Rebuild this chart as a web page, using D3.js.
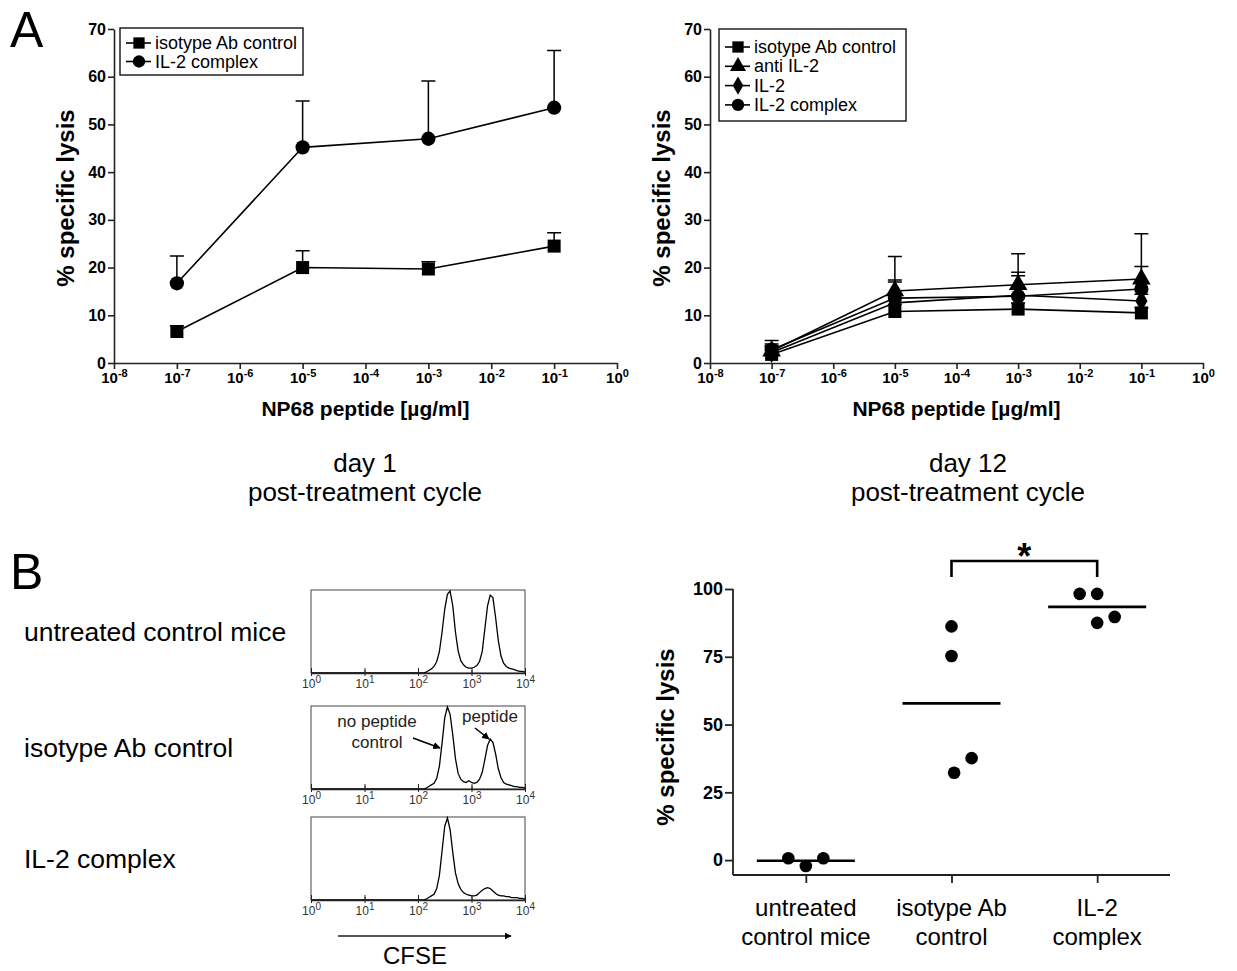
<!DOCTYPE html>
<html>
<head>
<meta charset="utf-8">
<script src="https://cdn.jsdelivr.net/npm/d3@7"></script>
<style>
  body { margin: 0; background: #fff; }
  svg { display: block; font-family: "Liberation Sans", Arial, Helvetica, sans-serif; }
</style>
</head>
<body>
<svg id="fig" width="1237" height="971"></svg>
<script>
// ---------- data ----------
const doses = [1e-7, 1e-5, 1e-3, 1e-1];
const doseTicks = [1e-8, 1e-7, 1e-6, 1e-5, 1e-4, 1e-3, 1e-2, 1e-1, 1];
const lysisTicks = [0, 10, 20, 30, 40, 50, 60, 70];

// day 1 (mean, upper end of error bar)
const day1Isotype = [6.6, 20.0, 19.7, 24.5];
const day1IsotypeErr = [7.8, 23.5, 21.2, 27.3];
const day1Complex = [16.7, 45.2, 47.0, 53.5];
const day1ComplexErr = [22.4, 54.9, 59.1, 65.5];

// day 12
const day12Isotype = [1.8, 10.8, 11.3, 10.5];
const day12IsotypeErr = [3.4, 12.3, 12.6, 11.6];
const day12AntiIL2 = [2.5, 15.1, 16.4, 17.6];
const day12AntiIL2Err = [4.7, 22.3, 22.9, 20.2];
const day12IL2 = [2.2, 12.6, 14.2, 13.0];
const day12IL2Err = [3.6, 17.0, 18.3, 14.4];
const day12Complex = [2.8, 13.6, 14.0, 15.5];
const day12ComplexErr = [4.0, 17.4, 19.0, 27.1];

// CFSE histograms (log10 channel, % of max count)
const cfseBins = [2.10, 2.15, 2.20, 2.25, 2.30, 2.35, 2.40, 2.45, 2.50, 2.55, 2.60, 2.65, 2.70,
  2.75, 2.80, 2.85, 2.90, 2.95, 3.00, 3.05, 3.10, 3.15, 3.20, 3.25, 3.30, 3.35, 3.40,
  3.45, 3.50, 3.55, 3.60, 3.65, 3.70, 3.75, 3.80, 3.85, 3.90, 3.95, 4.00];
const cfseUntreated = [0, 1, 3, 5, 8, 14, 26, 50, 78, 96, 100, 82, 50,
  27, 15, 10, 7, 6, 6, 7, 9, 14, 26, 54, 82, 95, 92,
  68, 40, 21, 12, 8, 6, 5, 4, 3, 2, 2, 1];
const cfseIsotype = [0, 1, 3, 5, 7, 13, 28, 56, 87, 100, 91, 66, 37,
  19, 12, 9, 8, 10, 8, 7, 8, 12, 20, 36, 53, 61, 57,
  43, 25, 14, 8, 6, 5, 4, 3, 3, 2, 2, 1];
const cfseComplex = [0, 1, 3, 5, 7, 14, 30, 60, 90, 100, 86, 58, 33,
  20, 13, 9, 7, 6, 5, 5, 6, 9, 12, 14, 15, 14, 11,
  8, 6, 5, 5, 4, 4, 3, 3, 3, 2, 2, 1];
const cfseTicks = [1, 10, 100, 1000, 10000];
const histRowLabels = ["untreated control mice", "isotype Ab control", "IL-2 complex"];

// in vivo lysis per mouse
const groups = ["untreated", "isotype", "complex"];
const groupLabels = [["untreated", "control mice"], ["isotype Ab", "control"], ["IL-2", "complex"]];
const lysisUntreated = [0.7, -2.2, 0.7];
const lysisIsotype = [86.2, 75.3, 32.2, 37.6];
const lysisComplex = [98.2, 98.2, 87.5, 89.7];
const scatterTicks = [0, 25, 50, 75, 100];

// ---------- drawing ----------
const svg = d3.select("#fig");
const AXIS = "#222";

function sym(type, size) {
  return d3.symbol().type(type).size(size)();
}

function powLabel(sel, base, exp, baseSize, expSize, bold) {
  sel.append("tspan").text(base).attr("font-size", baseSize);
  sel.append("tspan").text(exp).attr("font-size", expSize)
    .attr("dy", -Math.round(baseSize * 0.42));
  sel.attr("font-weight", bold ? "bold" : "normal");
}

function dosePanel(x0, x1, series, legend) {
  const x = d3.scaleLog().domain([1e-8, 1]).range([x0, x1]);
  const y = d3.scaleLinear().domain([0, 70]).range([363, 29]);
  const g = svg.append("g");

  const xa = g.append("g").attr("transform", `translate(0,${y(0)})`)
    .call(d3.axisBottom(x).tickValues(doseTicks).tickSize(6).tickSizeOuter(0).tickFormat(""));
  xa.selectAll(".tick").append("text")
    .attr("fill", "#000").attr("y", 20).attr("text-anchor", "middle")
    .each(function (d) {
      powLabel(d3.select(this), "10", String(Math.round(Math.log10(d))), 15, 11, true);
    });

  const ya = g.append("g").attr("transform", `translate(${x0},0)`)
    .call(d3.axisLeft(y).tickValues(lysisTicks).tickSize(6).tickSizeOuter(0));
  ya.selectAll("text").attr("font-size", 16).attr("font-weight", "bold").attr("fill", "#000").attr("x", -8);
  [xa, ya].forEach(a => {
    a.select(".domain").attr("stroke", AXIS).attr("stroke-width", 1.6);
    a.selectAll(".tick line").attr("stroke", AXIS).attr("stroke-width", 1.6);
  });

  g.append("text").attr("transform", `translate(${x0 - 40},198) rotate(-90)`)
    .attr("text-anchor", "middle").attr("font-size", 24).attr("font-weight", "bold")
    .text("% specific lysis");
  g.append("text").attr("x", (x0 + x1) / 2).attr("y", 416)
    .attr("text-anchor", "middle").attr("font-size", 21).attr("font-weight", "bold")
    .text("NP68 peptide [µg/ml]");

  const line = d3.line().x((d, i) => x(doses[i])).y(d => y(d));
  series.forEach(s => {
    g.append("path").attr("d", line(s.values)).attr("fill", "none")
      .attr("stroke", "#000").attr("stroke-width", 1.6);
  });
  series.forEach(s => {
    s.err.forEach((e, i) => {
      const cx = x(doses[i]);
      g.append("path").attr("d", `M${cx},${y(s.values[i])}V${y(e)}M${cx - 7},${y(e)}H${cx + 7}`)
        .attr("stroke", "#000").attr("stroke-width", 1.5).attr("fill", "none");
    });
  });
  series.forEach(s => {
    g.selectAll(null).data(s.values).enter().append("path")
      .attr("d", sym(s.shape, s.size))
      .attr("transform", (d, i) => `translate(${x(doses[i])},${y(d)})`)
      .attr("fill", "#000");
  });

  // legend
  const lg = g.append("g");
  lg.append("rect").attr("x", legend.x).attr("y", legend.y).attr("width", legend.w)
    .attr("height", legend.h).attr("fill", "#fff").attr("stroke", AXIS).attr("stroke-width", 1.5);
  series.forEach((s, i) => {
    const ry = legend.y + legend.first + i * legend.step;
    lg.append("line").attr("x1", legend.x + 6).attr("x2", legend.x + 31)
      .attr("y1", ry).attr("y2", ry).attr("stroke", "#000").attr("stroke-width", 1.6);
    lg.append("path").attr("d", sym(s.shape, s.size * 0.75))
      .attr("transform", `translate(${legend.x + 19},${ry})`);
    lg.append("text").attr("x", legend.x + 35).attr("y", ry + 6)
      .attr("font-size", 18).text(s.name);
  });
}

dosePanel(114, 617, [
  { name: "isotype Ab control", values: day1Isotype, err: day1IsotypeErr, shape: d3.symbolSquare, size: 170 },
  { name: "IL-2 complex", values: day1Complex, err: day1ComplexErr, shape: d3.symbolCircle, size: 160 }
], { x: 120, y: 28, w: 183, h: 47, first: 15, step: 18.5 });

dosePanel(710, 1203, [
  { name: "isotype Ab control", values: day12Isotype, err: day12IsotypeErr, shape: d3.symbolSquare, size: 170 },
  { name: "anti IL-2", values: day12AntiIL2, err: day12AntiIL2Err, shape: d3.symbolTriangle, size: 150 },
  { name: "IL-2", values: day12IL2, err: day12IL2Err, shape: d3.symbolDiamond, size: 130 },
  { name: "IL-2 complex", values: day12Complex, err: day12ComplexErr, shape: d3.symbolCircle, size: 160 }
], { x: 719, y: 29, w: 187, h: 92, first: 18, step: 19.3 });

// panel letters and captions
svg.append("text").attr("x", 10).attr("y", 47).attr("font-size", 50).text("A");
svg.append("text").attr("x", 10).attr("y", 589).attr("font-size", 50).text("B");
[[365, "day 1"], [968, "day 12"]].forEach(([cx, t]) => {
  svg.append("text").attr("x", cx).attr("y", 472).attr("text-anchor", "middle")
    .attr("font-size", 26).text(t);
  svg.append("text").attr("x", cx).attr("y", 501).attr("text-anchor", "middle")
    .attr("font-size", 26).text("post-treatment cycle");
});

// ---------- CFSE histograms ----------
const hx = d3.scaleLog().domain([1, 1e4]).range([311, 525]);
const histTops = [590, 706, 817];
const histH = 83;
[cfseUntreated, cfseIsotype, cfseComplex].forEach((counts, k) => {
  const top = histTops[k], bottom = top + histH;
  const hy = d3.scaleLinear().domain([0, 100]).range([bottom, top + 1]);
  const g = svg.append("g");
  g.append("rect").attr("x", hx(1)).attr("y", top).attr("width", hx(1e4) - hx(1))
    .attr("height", histH).attr("fill", "none").attr("stroke", "#444").attr("stroke-width", 1);

  const pts = [[1, 0]].concat(cfseBins.map((b, i) => [Math.pow(10, b), counts[i]]));
  g.append("path").attr("d", d3.line().x(d => hx(d[0])).y(d => hy(d[1]))(pts))
    .attr("fill", "none").attr("stroke", "#000").attr("stroke-width", 1.3);

  const ax = g.append("g").attr("transform", `translate(0,${bottom})`);
  ax.call(d3.axisBottom(hx).ticks(4).tickSize(-3).tickSizeOuter(0).tickFormat(""));
  ax.call(a => a.select(".domain").attr("stroke", "#222").attr("stroke-width", 1.5));
  ax.selectAll(".tick line").attr("stroke", "#333");
  const maj = g.append("g").attr("transform", `translate(0,${bottom})`)
    .call(d3.axisBottom(hx).tickValues(cfseTicks).tickSize(3).tickSizeOuter(0).tickFormat(""));
  maj.select(".domain").remove();
  maj.selectAll(".tick line").attr("stroke", "#222").attr("y1", -5);
  maj.selectAll(".tick").append("text").attr("y", 15).attr("fill", "#333")
    .attr("text-anchor", "middle")
    .each(function (d) {
      powLabel(d3.select(this), "10", String(Math.round(Math.log10(d))), 12, 10, false);
    });

  svg.append("text").attr("x", 24).attr("y", top + histH / 2 + 9)
    .attr("font-size", 26.5).text(histRowLabels[k]);
});

// annotations on middle histogram
svg.append("defs").append("marker").attr("id", "ah").attr("viewBox", "0 0 10 10")
  .attr("refX", 9).attr("refY", 5).attr("markerWidth", 5).attr("markerHeight", 5)
  .attr("orient", "auto").append("path").attr("d", "M0,0L10,5L0,10Z").attr("fill", "#000");
const ann = svg.append("g").attr("font-size", 17).attr("fill", "#222").attr("text-anchor", "middle");
ann.append("text").attr("x", 377).attr("y", 727).text("no peptide");
ann.append("text").attr("x", 377).attr("y", 748).text("control");
ann.append("text").attr("x", 490).attr("y", 722).text("peptide");
svg.append("line").attr("x1", 413).attr("y1", 738).attr("x2", 440).attr("y2", 748)
  .attr("stroke", "#000").attr("stroke-width", 1.5).attr("marker-end", "url(#ah)");
svg.append("line").attr("x1", 475).attr("y1", 728).attr("x2", 489).attr("y2", 739)
  .attr("stroke", "#000").attr("stroke-width", 1.5).attr("marker-end", "url(#ah)");

// CFSE arrow
svg.append("line").attr("x1", 338).attr("y1", 936).attr("x2", 511).attr("y2", 936)
  .attr("stroke", "#222").attr("stroke-width", 1.4).attr("marker-end", "url(#ah)");
svg.append("text").attr("x", 415).attr("y", 964).attr("text-anchor", "middle")
  .attr("font-size", 24).text("CFSE");

// ---------- lysis scatter ----------
const sx = d3.scalePoint().domain(groups).range([733, 1170]).padding(0.5);
const sy = d3.scaleLinear().domain([-5.5, 100]).range([875, 589]);
const sg = svg.append("g");

const sya = sg.append("g").attr("transform", "translate(733,0)")
  .call(d3.axisLeft(sy).tickValues(scatterTicks).tickSize(8).tickSizeOuter(0));
sya.select(".domain").attr("d", `M0,${sy(100)}V${sy(-5.5)}`);
sya.selectAll("text").attr("font-size", 18).attr("font-weight", "bold").attr("fill", "#000").attr("x", -10);
const sxa = sg.append("g").attr("transform", `translate(0,${sy(-5.5)})`)
  .call(d3.axisBottom(sx).tickSize(8).tickSizeOuter(0).tickFormat(""));
sxa.select(".domain").attr("d", `M733,0H1170`);
[sya, sxa].forEach(a => {
  a.select(".domain").attr("stroke", AXIS).attr("stroke-width", 1.8);
  a.selectAll(".tick line").attr("stroke", AXIS).attr("stroke-width", 1.8);
});
groups.forEach((grp, i) => {
  groupLabels[i].forEach((t, j) => {
    sg.append("text").attr("x", sx(grp)).attr("y", 916 + j * 29)
      .attr("text-anchor", "middle").attr("font-size", 24).text(t);
  });
});
sg.append("text").attr("transform", "translate(674,737) rotate(-90)")
  .attr("text-anchor", "middle").attr("font-size", 24).attr("font-weight", "bold")
  .text("% specific lysis");

// dodge slots so overlapping dots sit side by side
const slots = [[-1, 0, 1], [0, 0, 0.15, 1.15], [-1, 0, 0, 1]];
[lysisUntreated, lysisIsotype, lysisComplex].forEach((vals, i) => {
  const cx = sx(groups[i]);
  const m = d3.mean(vals);
  sg.append("line").attr("x1", cx - 49).attr("x2", cx + 49)
    .attr("y1", sy(m)).attr("y2", sy(m)).attr("stroke", "#000").attr("stroke-width", 2.6);
  sg.selectAll(null).data(vals).enter().append("circle")
    .attr("cx", (d, j) => cx + slots[i][j] * 17.5).attr("cy", d => sy(d))
    .attr("r", 6.3).attr("fill", "#000");
});

// significance bracket
const bY = 561;
sg.append("path")
  .attr("d", `M${sx("isotype")},${bY + 16}V${bY}H${sx("complex")}V${bY + 16}`)
  .attr("fill", "none").attr("stroke", "#000").attr("stroke-width", 2.6);
sg.append("text").attr("x", (sx("isotype") + sx("complex")) / 2).attr("y", 569)
  .attr("text-anchor", "middle").attr("font-size", 36).attr("font-weight", "bold").text("*");
</script>
</body>
</html>
